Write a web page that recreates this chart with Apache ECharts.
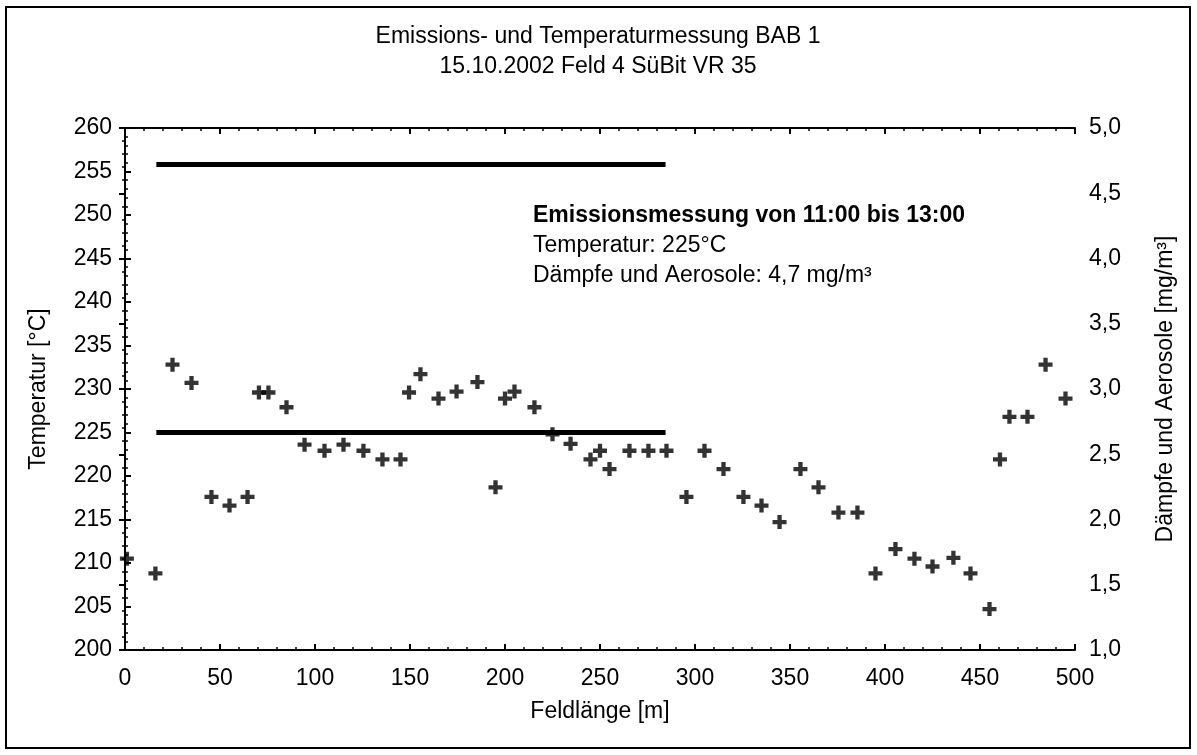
<!DOCTYPE html>
<html>
<head>
<meta charset="utf-8">
<script src="https://cdn.jsdelivr.net/npm/echarts@6/dist/echarts.min.js"></script>
<style>
html,body{margin:0;padding:0;background:#fff;}
#c{width:1197px;height:755px;}
</style>
</head>
<body>
<div id="c"></div>
<script>
// ---- data ----
const titleText = 'Emissions- und Temperaturmessung BAB 1';
const subtitleText = '15.10.2002 Feld 4 SüBit VR 35';
const xName = 'Feldlänge [m]';
const yLeftName = 'Temperatur [°C]';
const yRightName = 'Dämpfe und Aerosole [mg/m³]';
const noteLines = ['Emissionsmessung von 11:00 bis 13:00', 'Temperatur: 225°C', 'Dämpfe und Aerosole: 4,7 mg/m³'];

const fieldPos = [1,16,25,35,45.5,55,64.5,70.5,75.5,85,94.5,105,115,125.5,135.5,145,149.5,155.5,165,174.5,185.5,195,200,205,215.5,225,234.5,245,250,255,265.5,275.5,285,295.5,305,315,325.5,335,344.5,355.5,365,375.5,385.5,395,405.5,415.5,425,436,445,455,460.5,465.5,475,484.5,495];
const temperature = [210.5,208.8,232.8,230.7,217.6,216.6,217.6,229.6,229.6,227.9,223.6,222.9,223.6,222.9,221.9,221.9,229.6,231.7,228.9,229.7,230.8,218.7,228.9,229.7,227.9,224.8,223.7,221.9,222.9,220.8,222.9,222.9,222.9,217.6,222.9,220.8,217.6,216.6,214.7,220.8,218.7,215.8,215.8,208.8,211.6,210.5,209.6,210.6,208.8,204.7,221.9,226.8,226.8,232.8,228.9];

const measureRange = [16.5, 284.5];   // Feldlänge range of emission measurement
const measureTemp = 225;             // °C (left axis)
const measureAerosol = 4.72;         // mg/m³ (right axis), as drawn

// ---- chart ----
const chart = echarts.init(document.getElementById('c'), null, {renderer:'canvas'});
const FONT = '"Liberation Sans", Arial, sans-serif';
const FS = 23;
const plus = 'path://M4.5,0H8.5V4.5H13V8.5H8.5V13H4.5V8.5H0V4.5H4.5Z';

const tickCommon = {
  axisLine:{show:true, lineStyle:{color:'#000', width:2}},
  axisTick:{show:true, inside:true, length:6, lineStyle:{color:'#000', width:2}},
  minorTick:{show:true, splitNumber:5, length:3, lineStyle:{color:'#000', width:1.5}},
  splitLine:{show:false}
};

chart.setOption({
  backgroundColor:'#fff',
  animation:false,
  grid:{left:125, right:122, top:128, bottom:105},
  xAxis:[
    Object.assign({type:'value', min:0, max:500, interval:50, position:'bottom',
      name:xName, nameLocation:'middle', nameGap:50,
      nameTextStyle:{fontFamily:FONT, fontSize:FS, color:'#000'},
      axisLabel:{fontFamily:FONT, fontSize:FS, color:'#000', margin:17}}, tickCommon),
    Object.assign({type:'value', min:0, max:500, interval:50, position:'top',
      axisLabel:{show:false}}, tickCommon)
  ],
  yAxis:[
    Object.assign({type:'value', min:200, max:260, interval:5, position:'left',
      name:yLeftName, nameLocation:'middle', nameGap:75, nameRotate:90,
      nameTextStyle:{fontFamily:FONT, fontSize:FS, color:'#000'},
      axisLabel:{fontFamily:FONT, fontSize:FS, color:'#000', margin:13}}, tickCommon),
    Object.assign({type:'value', min:1, max:5, interval:0.5, position:'right',
      name:yRightName, nameLocation:'middle', nameGap:79, nameRotate:90,
      nameTextStyle:{fontFamily:FONT, fontSize:FS, color:'#000'},
      axisLabel:{fontFamily:FONT, fontSize:FS, color:'#000', margin:14,
        formatter:v=>v.toFixed(1).replace('.',',')}}, tickCommon)
  ],
  graphic:[
    {type:'rect', shape:{x:6, y:7, width:1184, height:741}, style:{fill:null, stroke:'#000', lineWidth:2}, silent:true, z:-1},
    {type:'text', x:598, y:37, style:{text:titleText, font:FS+'px '+FONT, fill:'#000', textAlign:'center', textVerticalAlign:'middle'}},
    {type:'text', x:598, y:67, style:{text:subtitleText, font:FS+'px '+FONT, fill:'#000', textAlign:'center', textVerticalAlign:'middle'}},
    {type:'text', x:533, y:216, style:{text:noteLines[0], font:'bold '+FS+'px '+FONT, fill:'#000', textVerticalAlign:'middle'}},
    {type:'text', x:533, y:246, style:{text:noteLines[1], font:FS+'px '+FONT, fill:'#000', textVerticalAlign:'middle'}},
    {type:'text', x:533, y:276, style:{text:noteLines[2], font:FS+'px '+FONT, fill:'#000', textVerticalAlign:'middle'}}
  ],
  series:[
    {type:'line', xAxisIndex:0, yAxisIndex:0, symbol:'none',
     data:[[measureRange[0], measureTemp],[measureRange[1], measureTemp]],
     lineStyle:{color:'#000', width:5}, z:2},
    {type:'line', xAxisIndex:0, yAxisIndex:1, symbol:'none',
     data:[[measureRange[0], measureAerosol],[measureRange[1], measureAerosol]],
     lineStyle:{color:'#000', width:5}, z:2},
    {type:'scatter', xAxisIndex:0, yAxisIndex:0, symbol:plus, symbolSize:14,
     itemStyle:{color:'#000'},
     data:fieldPos.map((x,i)=>[x, temperature[i]]), z:3}
  ]
});
</script>
</body>
</html>
